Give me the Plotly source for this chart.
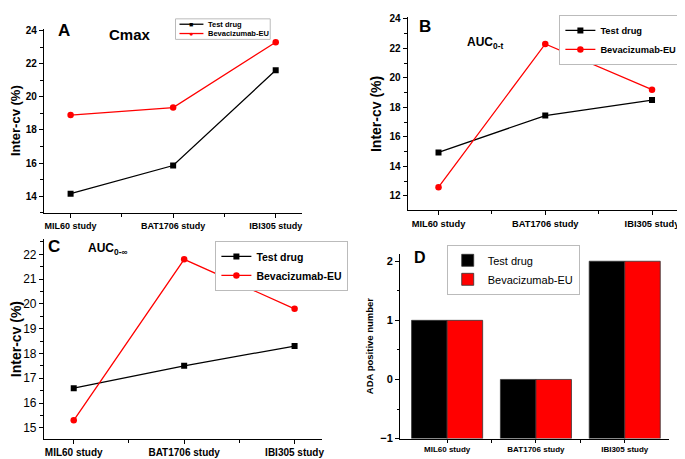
import plotly.graph_objects as go

studies = ["MIL60 study", "BAT1706 study", "IBI305 study"]
xpos = list(range(len(studies)))

cmax_test = [14.15, 15.85, 21.6]
cmax_bev = [18.9, 19.35, 23.3]
auct_test = [14.95, 17.45, 18.5]
auct_bev = [12.6, 22.3, 19.2]
aucinf_test = [16.6, 17.5, 18.3]
aucinf_bev = [15.3, 21.8, 19.8]
ada_test = [1, 0, 2]
ada_bev = [1, 0, 2]
ada_base = -1

series_names = ["Test drug", "Bevacizumab-EU"]

FONT = "Liberation Sans, Arial, sans-serif"
RED = "#ff0000"
W, H = 685, 459

fig = go.Figure()

panels = [
    ("", cmax_test, cmax_bev, "legend", False),
    ("2", auct_test, auct_bev, "legend2", True),
    ("3", aucinf_test, aucinf_bev, "legend3", True),
]
for sfx, t, b, leg, show in panels:
    fig.add_trace(go.Scatter(x=xpos, y=t, mode="lines+markers", name=series_names[0],
                             line=dict(color="black", width=1.3),
                             marker=dict(symbol="square", size=6, color="black"),
                             xaxis="x" + sfx, yaxis="y" + sfx, legend=leg, showlegend=show))
    fig.add_trace(go.Scatter(x=xpos, y=b, mode="lines+markers", name=series_names[1],
                             line=dict(color=RED, width=1.3),
                             marker=dict(symbol="circle", size=6.5, color=RED),
                             xaxis="x" + sfx, yaxis="y" + sfx, legend=leg, showlegend=show))

fig.add_trace(go.Bar(x=xpos, y=[v - ada_base for v in ada_test], base=ada_base,
                     name=series_names[0], marker=dict(color="black", line=dict(color="#333", width=0.8)),
                     xaxis="x4", yaxis="y4", legend="legend4", offsetgroup="a"))
fig.add_trace(go.Bar(x=xpos, y=[v - ada_base for v in ada_bev], base=ada_base,
                     name=series_names[1], marker=dict(color=RED, line=dict(color="#333", width=0.8)),
                     xaxis="x4", yaxis="y4", legend="legend4", offsetgroup="b"))


def xax(domain, rng, anchor, size, tl=4):
    return dict(domain=domain, range=rng, anchor=anchor, showline=True, linecolor="black",
                linewidth=1, ticks="outside", ticklen=tl, tickcolor="black",
                tickvals=xpos, ticktext=studies, showgrid=False, zeroline=False,
                tickfont=dict(family=FONT, size=size, color="black", weight="bold"),
                minor=dict(tickvals=[0.5, 1.5], ticks="outside", ticklen=3, tickcolor="black"))


def yax(domain, rng, anchor, dtick, mdtick, size, bold, title, tsize):
    w = "bold" if bold else "normal"
    return dict(domain=domain, range=rng, anchor=anchor, showline=True, linecolor="black",
                linewidth=1, ticks="outside", ticklen=4, tickcolor="black", dtick=dtick,
                showgrid=False, zeroline=False,
                tickfont=dict(family=FONT, size=size, color="black", weight=w),
                minor=dict(dtick=mdtick, ticks="outside", ticklen=2.5, tickcolor="black"),
                title=dict(text=title, standoff=4,
                           font=dict(family=FONT, size=tsize, color="black", weight="bold")))


def legend(x, y, size, bold):
    return dict(x=x / W, y=1 - y / H, xanchor="left", yanchor="top", bgcolor="white",
                bordercolor="#bbbbbb", borderwidth=1, tracegroupgap=0,
                font=dict(family=FONT, size=size, color="black", weight="bold" if bold else "normal"),
                itemwidth=30)


fig.update_layout(
    width=W, height=H, margin=dict(l=0, r=0, t=0, b=0),
    paper_bgcolor="white", plot_bgcolor="white", showlegend=True, barmode="group",
    bargap=0.2, bargroupgap=0,
    xaxis=xax([0.0526, 0.431], [-0.26, 2.26], "y", 9),
    yaxis=yax([0.553, 0.963], [13.0, 24.12], "x", 2, 1, 10, True, "Inter-cv (%)", 13),
    xaxis2=xax([0.585, 0.982], [-0.29, 2.25], "y2", 9.3),
    yaxis2=yax([0.558, 0.988], [11.02, 24.1], "x2", 2, 1, 10, True, "Inter-cv (%)", 14),
    xaxis3=xax([0.0526, 0.46], [-0.27, 2.25], "y3", 10),
    yaxis3=yax([0.048, 0.495], [14.53, 22.63], "x3", 1, 0.5, 12, False, "Inter-cv (%)", 14),
    xaxis4=xax([0.574, 0.968], [-0.53, 2.5], "y4", 8, tl=3),
    yaxis4=yax([0.05, 0.462], [-1, 2.13], "x4", 1, 0.5, 11, True, "ADA positive number", 9.5),
    legend2=legend(553, 3, 9.3, True),
    legend3=legend(208, 234, 10.5, True),
    legend4=legend(440, 238, 11, False),
)

# compact legend box for panel A (plotly's own legend rows are too tall here)
lx0, ly0, lx1, ly1 = 168, 7, 263, 28
fig.add_shape(type="rect", xref="paper", yref="paper", x0=lx0 / W, x1=lx1 / W,
              y0=1 - ly1 / H, y1=1 - ly0 / H, line=dict(color="#bbbbbb", width=1),
              fillcolor="white", layer="above")
for i, (name, col, sym) in enumerate([(series_names[0], "black", "■"), (series_names[1], RED, "●")]):
    yy = 1 - (12.5 + i * 9.5) / H
    fig.add_shape(type="line", xref="paper", yref="paper", x0=172 / W, x1=196 / W,
                  y0=yy, y1=yy, line=dict(color=col, width=1.3), layer="above")
    fig.add_annotation(text=sym, x=184 / W, y=yy, xref="paper", yref="paper", showarrow=False,
                       xanchor="center", yanchor="middle", font=dict(size=7, color=col))
    fig.add_annotation(text=name, x=199 / W, y=yy, xref="paper", yref="paper", showarrow=False,
                       xanchor="left", yanchor="middle",
                       font=dict(family=FONT, size=7.5, color="black", weight="bold"))

ann = [
    ("A", 56, 19, 17), ("Cmax", 122, 23, 15),
    ("B", 418, 15, 17), ("AUC<sub>0-t</sub>", 478, 32, 12),
    ("C", 46, 240, 17), ("AUC<sub>0-∞</sub>", 100, 242, 12),
    ("D", 413, 251, 16),
]
for text, px, py, size in ann:
    fig.add_annotation(text=text, x=px / W, y=1 - py / H, xref="paper", yref="paper",
                       showarrow=False, xanchor="center", yanchor="middle",
                       font=dict(family=FONT, size=size, color="black", weight="bold"))

fig.write_html("out.html")
